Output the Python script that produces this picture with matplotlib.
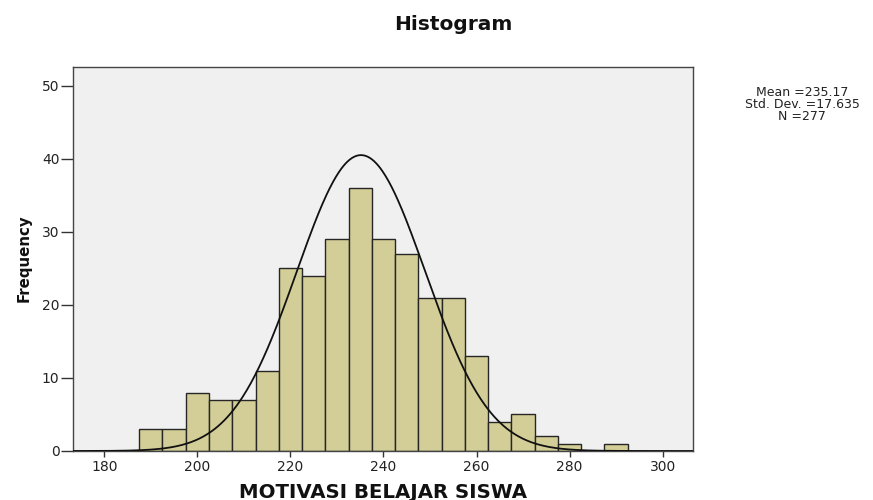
import numpy as np
import matplotlib
matplotlib.use("Agg")
import matplotlib.pyplot as plt

# ---- data ----
bin_edges = [187.5, 192.5, 197.5, 202.5, 207.5, 212.5, 217.5, 222.5, 227.5,
             232.5, 237.5, 242.5, 247.5, 252.5, 257.5, 262.5, 267.5, 272.5,
             277.5, 282.5, 287.5, 292.5]
counts = [3, 3, 8, 7, 7, 11, 25, 24, 29, 36, 29, 27, 21, 21, 13, 4, 5, 2, 1, 0, 1]

mean_val = 235.17
std_val = 17.635
n_val = 277

# normal curve as drawn in the picture
curve_mean = 235.17
curve_sd = 13.8
curve_peak = 40.5

x_ticks = [180, 200, 220, 240, 260, 280, 300]
y_ticks = [0, 10, 20, 30, 40, 50]

title = "Histogram"
x_label = "MOTIVASI BELAJAR SISWA"
y_label = "Frequency"

# ---- figure ----
W, H = 873, 500
fig = plt.figure(figsize=(W / 100, H / 100), dpi=100)
fig.patch.set_facecolor("white")

left, right, top, bottom = 72.7, 693.3, 66.7, 451.0
ax = fig.add_axes([left / W, 1 - bottom / H, (right - left) / W, (bottom - top) / H])
ax.set_facecolor("#F0F0F0")

edges = np.array(bin_edges)
ax.bar(edges[:-1], counts, width=np.diff(edges), align="edge",
       color="#D3CE97", edgecolor="#262626", linewidth=1.0, zorder=2)

xs = np.linspace(173.2, 306.6, 600)
ys = curve_peak * np.exp(-0.5 * ((xs - curve_mean) / curve_sd) ** 2)
ax.plot(xs, ys, color="#111111", linewidth=1.3, zorder=3)

ax.set_xlim(173.2, 306.6)
ax.set_ylim(0, 52.6)
ax.set_xticks(x_ticks)
ax.set_yticks(y_ticks)
for s in ax.spines.values():
    s.set_color("#444444")
    s.set_linewidth(1.0)
ax.tick_params(axis="x", direction="out", length=4.3, width=1.0, color="#333333",
               labelsize=10, labelcolor="#222222", pad=2)
ax.tick_params(axis="y", direction="out", length=8.5, width=1.0, color="#333333",
               labelsize=10, labelcolor="#222222", pad=1)

fig.text(453 / W, 1 - 30 / H, title, ha="center", va="baseline",
         fontsize=14.5, fontweight="bold", color="#111111")
fig.text(383 / W, 1 - 497.5 / H, x_label, ha="center", va="baseline",
         fontsize=14.2, fontweight="bold", color="#111111")
fig.text(24 / W, 1 - 258 / H, y_label, ha="center", va="center", rotation=90,
         fontsize=10.8, fontweight="bold", color="#111111")

stats_text = "\n".join([f"Mean ={mean_val:.2f}", f"Std. Dev. ={std_val:.3f}", f"N ={n_val}"])
fig.text(802 / W, 1 - 105 / H, stats_text, ha="center", va="center",
         multialignment="center", linespacing=0.9, fontsize=9, color="#222222")

fig.savefig("out.png", dpi=100)
